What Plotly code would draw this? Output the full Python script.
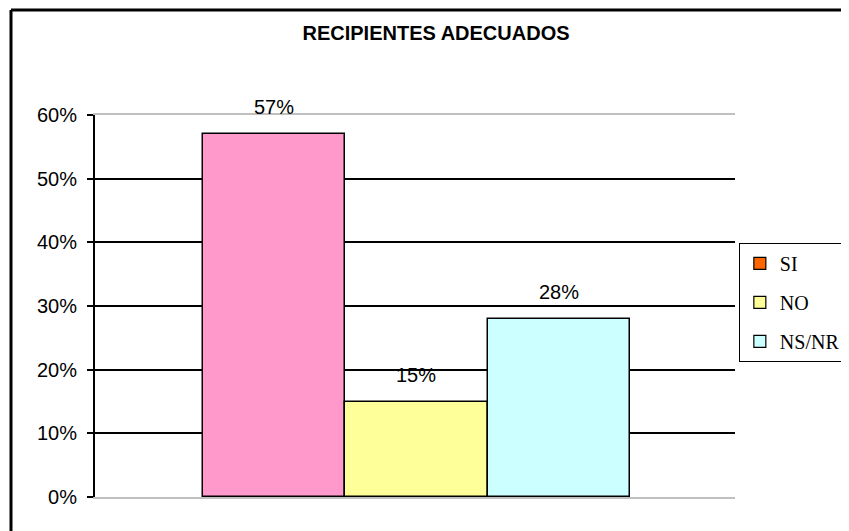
import plotly.graph_objects as go

TITLE = "RECIPIENTES ADECUADOS"
categories = ["SI", "NO", "NS/NR"]
values = [57, 15, 28]
labels = ["57%", "15%", "28%"]
bar_colors = ["#FF99CC", "#FFFF99", "#CCFFFF"]
legend_colors = ["#FF6600", "#FFFF99", "#CCFFFF"]
y_ticks = [0, 10, 20, 30, 40, 50, 60]
y_tick_labels = ["0%", "10%", "20%", "30%", "40%", "50%", "60%"]

SANS = "Liberation Sans, Arial, sans-serif"
SERIF = "Liberation Serif, Times New Roman, serif"

fig = go.Figure()
fig.add_trace(
    go.Bar(
        x=categories,
        y=values,
        marker=dict(color=bar_colors, line=dict(color="black", width=1.5)),
        showlegend=False,
        hoverinfo="skip",
    )
)

# legend keys (the SI key colour differs from its bar in the original)
for name, col in zip(categories, legend_colors):
    fig.add_trace(
        go.Scatter(
            x=[None],
            y=[None],
            mode="markers",
            name=name,
            legendgroup=name,
            marker=dict(symbol="square", size=12, color=col, line=dict(color="black", width=1.2)),
        )
    )

for cat, val, lab in zip(categories, values, labels):
    fig.add_annotation(
        x=cat, y=val, text=lab, showarrow=False, yanchor="bottom", yshift=14,
        font=dict(family=SANS, size=20, color="black"),
    )

# outer chart border (only top and left are visible in the crop)
fig.add_shape(type="line", xref="paper", yref="paper", x0=-0.13125, x1=1.25, y0=1.2749, y1=1.2749,
              line=dict(color="black", width=3))
fig.add_shape(type="line", xref="paper", yref="paper", x0=-0.13125, x1=-0.13125, y0=-0.2, y1=1.2749,
              line=dict(color="black", width=3))

fig.update_layout(
    width=849,
    height=531,
    margin=dict(l=87, r=122, t=107, b=42, autoexpand=False),
    paper_bgcolor="white",
    plot_bgcolor="white",
    bargap=0,
    title=dict(
        text=f"<b>{TITLE}</b>",
        x=428 / 849,
        xanchor="center",
        y=1 - 25 / 531,
        yanchor="middle",
        font=dict(family=SANS, size=20, color="black"),
    ),
    legend=dict(
        x=1.006,
        xanchor="left",
        y=0.665,
        yanchor="top",
        bgcolor="white",
        bordercolor="black",
        borderwidth=1,
        tracegroupgap=10,
        font=dict(family=SERIF, size=20, color="black"),
    ),
    xaxis=dict(
        range=[-1.26, 3.24],
        showticklabels=False,
        showgrid=False,
        showline=True,
        linecolor="#C0C0C0",
        linewidth=2,
        mirror=True,
        ticks="",
        fixedrange=True,
    ),
    yaxis=dict(
        range=[0, 60],
        tickvals=y_ticks,
        ticktext=y_tick_labels,
        showgrid=True,
        gridcolor="black",
        gridwidth=1.5,
        zeroline=False,
        showline=True,
        linecolor="black",
        linewidth=2,
        ticks="outside",
        ticklen=6,
        tickwidth=1.5,
        tickcolor="black",
        ticklabelstandoff=6,
        tickfont=dict(family=SANS, size=20, color="black"),
        fixedrange=True,
    ),
)

fig.write_html("out.html")
